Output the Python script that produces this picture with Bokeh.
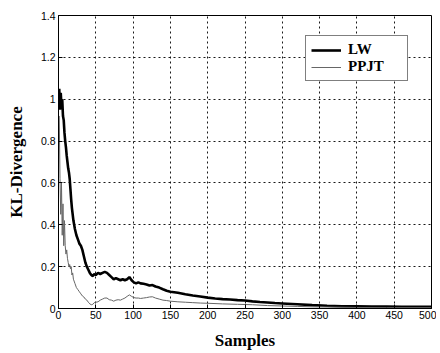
from bokeh.plotting import figure
from bokeh.models import Range1d, FixedTicker, Legend, LegendItem
from bokeh.embed import file_html
from bokeh.resources import INLINE

# ---- data ----
lw_x = [1, 2, 3, 4, 5, 6, 7, 8, 9, 10, 11, 12, 13, 14, 15, 16, 17, 18, 20, 22, 24, 26, 28, 30,
        32, 34, 36, 38, 40, 42, 44, 46, 48, 50, 53, 56, 59, 62, 65, 68, 71, 74, 77, 80, 83, 86,
        89, 92, 95, 98, 101, 104, 107, 110, 114, 118, 122, 126, 130, 135, 140, 145, 150, 155,
        160, 170, 180, 190, 200, 210, 220, 230, 240, 250, 260, 270, 280, 290, 300, 320, 340,
        360, 380, 400, 420, 440, 460, 480, 500]
lw_y = [1.05, 0.95, 1.03, 0.97, 1.0, 0.92, 0.90, 0.84, 0.80, 0.77, 0.73, 0.70, 0.67, 0.65,
        0.62, 0.57, 0.52, 0.48, 0.42, 0.38, 0.35, 0.33, 0.31, 0.30, 0.28, 0.25, 0.22, 0.20,
        0.185, 0.17, 0.16, 0.155, 0.165, 0.16, 0.17, 0.165, 0.17, 0.175, 0.17, 0.16, 0.15,
        0.14, 0.145, 0.14, 0.135, 0.14, 0.135, 0.14, 0.15, 0.135, 0.125, 0.12, 0.125, 0.12,
        0.118, 0.115, 0.11, 0.112, 0.105, 0.10, 0.092, 0.085, 0.08, 0.078, 0.075, 0.068,
        0.062, 0.057, 0.052, 0.048, 0.045, 0.043, 0.04, 0.038, 0.034, 0.031, 0.029, 0.026,
        0.024, 0.02, 0.016, 0.013, 0.011, 0.01, 0.009, 0.009, 0.008, 0.008, 0.008]

ppjt_x = [1, 2, 3, 4, 5, 6, 7, 8, 9, 10, 11, 12, 13, 14, 15, 16, 17, 18, 19, 20, 22, 24, 26,
          28, 30, 32, 34, 36, 38, 40, 42, 44, 46, 48, 50, 53, 56, 59, 62, 65, 68, 71, 74, 77,
          80, 83, 86, 89, 92, 95, 98, 101, 104, 107, 110, 114, 118, 122, 126, 130, 135, 140,
          145, 150, 160, 170, 180, 190, 200, 220, 240, 260, 280, 300, 320, 340, 360, 380, 400,
          440, 500]
ppjt_y = [0.92, 0.62, 0.45, 0.60, 0.35, 0.50, 0.30, 0.42, 0.30, 0.26, 0.28, 0.24, 0.22, 0.20,
          0.21, 0.19, 0.20, 0.16, 0.17, 0.14, 0.12, 0.10, 0.09, 0.08, 0.07, 0.06, 0.055, 0.045,
          0.04, 0.03, 0.022, 0.018, 0.02, 0.028, 0.03, 0.032, 0.04, 0.045, 0.05, 0.05, 0.042,
          0.04, 0.035, 0.04, 0.042, 0.04, 0.045, 0.05, 0.058, 0.065, 0.058, 0.052, 0.05, 0.05,
          0.048, 0.05, 0.052, 0.055, 0.056, 0.05, 0.045, 0.04, 0.038, 0.035, 0.032, 0.03, 0.028,
          0.026, 0.025, 0.022, 0.02, 0.018, 0.014, 0.012, 0.01, 0.008, 0.007, 0.006, 0.005,
          0.004, 0.004]

x_ticks = [0, 50, 100, 150, 200, 250, 300, 350, 400, 450, 500]
y_ticks = [0, 0.2, 0.4, 0.6, 0.8, 1.0, 1.2, 1.4]
y_tick_labels = ["0", "0.2", "0.4", "0.6", "0.8", "1", "1.2", "1.4"]

p = figure(width=436, height=352, output_backend="svg", toolbar_location=None,
           x_range=Range1d(0, 500), y_range=Range1d(0, 1.4),
           min_border_left=58, min_border_right=5, min_border_top=15, min_border_bottom=41)

p.outline_line_color = "black"
p.outline_line_width = 1
p.background_fill_color = "white"

for ax in (p.xaxis[0], p.yaxis[0]):
    ax.axis_line_color = "black"
    ax.major_tick_in = 4
    ax.major_tick_out = 0
    ax.minor_tick_line_color = None
    ax.major_label_text_font = "Liberation Sans"
    ax.major_label_text_font_size = "10.5px"
    ax.major_label_text_color = "black"
    ax.axis_label_text_font = "Liberation Serif"
    ax.axis_label_text_font_style = "bold"
    ax.axis_label_text_font_size = "17px"
    ax.axis_label_text_color = "black"

p.xaxis.ticker = FixedTicker(ticks=x_ticks)
p.yaxis.ticker = FixedTicker(ticks=y_ticks)
p.yaxis.major_label_overrides = {t: l for t, l in zip(y_ticks, y_tick_labels)}
p.xaxis.major_label_standoff = 2
p.yaxis.major_label_standoff = 3
p.xaxis.axis_label = "Samples"
p.yaxis.axis_label = "KL-Divergence"
p.xaxis.axis_label_standoff = 9
p.yaxis.axis_label_standoff = 12

p.grid.grid_line_color = "black"
p.grid.grid_line_dash = "2 3"
p.grid.grid_line_width = 1
p.grid.grid_line_alpha = 0.9

r_lw = p.line(lw_x, lw_y, line_color="black", line_width=2.6)
r_pp = p.line(ppjt_x, ppjt_y, line_color="#666666", line_width=1)

legend = Legend(items=[LegendItem(label="LW", renderers=[r_lw]),
                       LegendItem(label="PPJT", renderers=[r_pp])],
                location=(247, 227))
legend.label_text_font = "Liberation Serif"
legend.label_text_font_size = "15px"
legend.label_text_font_style = "bold"
legend.label_text_color = "black"
legend.glyph_width = 30
legend.glyph_height = 12
legend.label_height = 12
legend.label_width = 54
legend.label_standoff = 7
legend.padding = 5
legend.spacing = 0
legend.margin = 0
legend.border_line_color = "black"
legend.border_line_width = 1
legend.background_fill_alpha = 1
p.add_layout(legend, "center")

open("out.html", "w").write(file_html(p, INLINE))
